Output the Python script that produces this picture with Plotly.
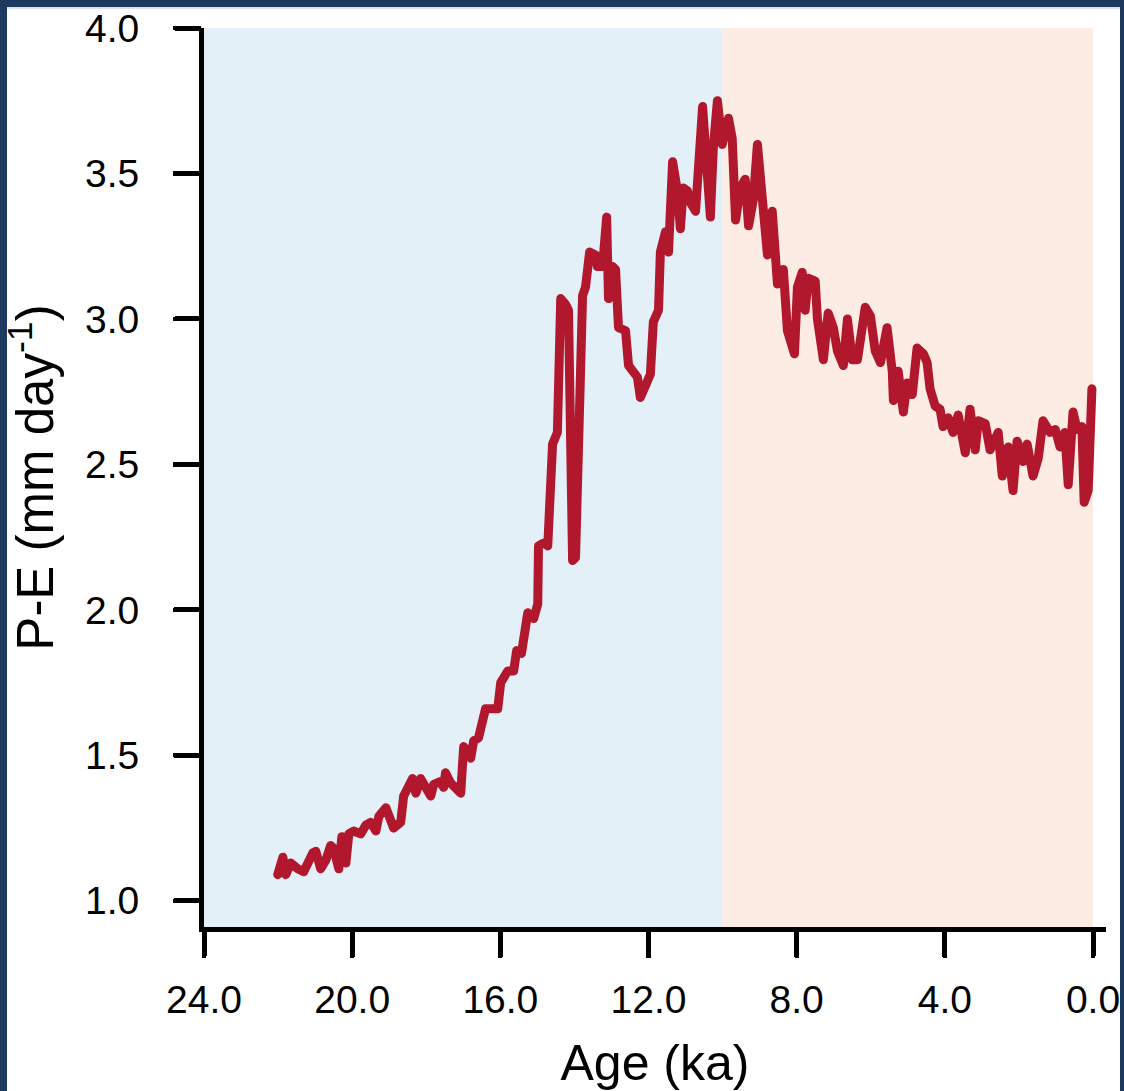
import plotly.graph_objects as go

# Age (ka) and P-E (mm/day)
age_ka = [22.01, 21.87, 21.79, 21.66, 21.47, 21.31, 21.06, 20.98, 20.85, 20.71,
          20.58, 20.50, 20.36, 20.28, 20.17, 20.09, 19.96, 19.77, 19.63, 19.50,
          19.36, 19.28, 19.09, 18.88, 18.69, 18.61, 18.37, 18.28, 18.15, 18.02,
          17.88, 17.80, 17.61, 17.53, 17.48, 17.34, 17.21, 17.07, 16.99, 16.88,
          16.80, 16.72, 16.59, 16.40, 16.07, 15.99, 15.80, 15.64, 15.56, 15.43,
          15.26, 15.10, 14.99, 14.97, 14.83, 14.72, 14.59, 14.46, 14.37, 14.24,
          14.16, 14.05, 13.97, 13.78, 13.70, 13.59, 13.43, 13.38, 13.24, 13.13,
          13.08, 12.97, 12.89, 12.81, 12.62, 12.54, 12.41, 12.30, 12.22, 12.08,
          11.95, 11.87, 11.73, 11.68, 11.54, 11.46, 11.35, 11.22, 11.14, 11.06,
          10.95, 10.87, 10.73, 10.54, 10.41, 10.33, 10.25, 10.14, 10.01, 9.92,
          9.84, 9.74, 9.65, 9.52, 9.39, 9.30, 9.17, 9.06, 8.90, 8.79,
          8.66, 8.52, 8.36, 8.25, 8.06, 7.98, 7.85, 7.77, 7.69, 7.50,
          7.44, 7.28, 7.15, 7.01, 6.90, 6.74, 6.63, 6.50, 6.36, 6.28,
          6.15, 6.01, 5.88, 5.74, 5.56, 5.42, 5.39, 5.26, 5.12, 5.02,
          4.88, 4.75, 4.58, 4.48, 4.40, 4.26, 4.13, 4.05, 3.91, 3.78,
          3.64, 3.45, 3.32, 3.18, 3.10, 2.91, 2.78, 2.56, 2.45, 2.37,
          2.29, 2.16, 2.05, 1.89, 1.78, 1.62, 1.48, 1.35, 1.16, 1.02,
          0.89, 0.76, 0.67, 0.54, 0.43, 0.30, 0.24, 0.13, 0.03]

p_minus_e = [1.09, 1.15, 1.09, 1.13, 1.11, 1.10, 1.165, 1.17, 1.11, 1.14,
             1.19, 1.18, 1.11, 1.22, 1.13, 1.23, 1.24, 1.23, 1.26, 1.27,
             1.24, 1.29, 1.32, 1.25, 1.27, 1.36, 1.42, 1.37, 1.42, 1.39,
             1.36, 1.40, 1.41, 1.39, 1.44, 1.405, 1.39, 1.37, 1.53, 1.51,
             1.49, 1.55, 1.56, 1.66, 1.66, 1.75, 1.79, 1.79, 1.86, 1.85,
             1.99, 1.97, 2.02, 2.22, 2.23, 2.22, 2.57, 2.61, 3.07, 3.05,
             3.03, 2.17, 2.18, 3.08, 3.11, 3.23, 3.22, 3.18, 3.18, 3.35,
             3.07, 3.18, 3.17, 2.97, 2.96, 2.84, 2.81, 2.80, 2.73, 2.78,
             2.81, 2.99, 3.03, 3.23, 3.30, 3.23, 3.54, 3.44, 3.31, 3.45,
             3.44, 3.40, 3.37, 3.73, 3.48, 3.35, 3.59, 3.75, 3.60, 3.66,
             3.69, 3.62, 3.34, 3.45, 3.48, 3.32, 3.41, 3.60, 3.32, 3.22,
             3.37, 3.12, 3.17, 2.96, 2.88, 3.11, 3.16, 3.03, 3.14, 3.13,
             3.00, 2.86, 3.02, 2.97, 2.89, 2.84, 3.00, 2.86, 2.86, 2.92,
             3.04, 3.01, 2.89, 2.85, 2.97, 2.82, 2.72, 2.82, 2.68, 2.78,
             2.74, 2.90, 2.88, 2.85, 2.76, 2.70, 2.69, 2.63, 2.66, 2.61,
             2.67, 2.54, 2.69, 2.55, 2.65, 2.64, 2.55, 2.61, 2.46, 2.51,
             2.56, 2.41, 2.58, 2.51, 2.57, 2.46, 2.52, 2.65, 2.61, 2.62,
             2.56, 2.61, 2.43, 2.68, 2.62, 2.63, 2.37, 2.41, 2.76]

x_ticks = [24, 20, 16, 12, 8, 4, 0]
x_tick_text = ["24.0", "20.0", "16.0", "12.0", "8.0", "4.0", "0.0"]
y_ticks = [1.0, 1.5, 2.0, 2.5, 3.0, 3.5, 4.0]
y_tick_text = ["1.0", "1.5", "2.0", "2.5", "3.0", "3.5", "4.0"]

glacial_span = [24, 10]
holocene_span = [10, 0]

NAVY = "rgb(29,58,94)"
LINE = "rgb(178,24,45)"
BLUE_BG = "rgb(228,240,247)"
ORANGE_BG = "rgb(253,236,227)"
FONT = "Liberation Sans, Arial, Helvetica, sans-serif"

W, H = 1124, 1091
L, R, T, B = 204, 18, 28, 164
pw = W - L - R
ph = H - T - B


def px_x(px):
    return (px - L) / pw


def px_y(py):
    return (H - B - py) / ph


fig = go.Figure()
fig.add_trace(go.Scatter(
    x=age_ka, y=p_minus_e, mode="lines",
    line=dict(color=LINE, width=9, shape="linear"),
    hoverinfo="skip", showlegend=False,
))

shapes = [
    dict(type="rect", xref="paper", yref="paper", layer="below",
         x0=px_x(7), x1=px_x(1120), y0=px_y(1100), y1=px_y(7),
         fillcolor="white", line=dict(width=0)),
    dict(type="rect", xref="paper", yref="paper", layer="below",
         x0=px_x(7), x1=px_x(1120), y0=px_y(9), y1=px_y(7),
         fillcolor="rgb(225,225,228)", line=dict(width=0)),
    dict(type="rect", xref="x", yref="paper", layer="below",
         x0=glacial_span[0], x1=glacial_span[1], y0=0, y1=1,
         fillcolor=BLUE_BG, line=dict(width=0)),
    dict(type="rect", xref="x", yref="paper", layer="below",
         x0=holocene_span[0], x1=holocene_span[1], y0=0, y1=1,
         fillcolor=ORANGE_BG, line=dict(width=0)),
]

fig.update_layout(
    width=W, height=H,
    margin=dict(l=L, r=R, t=T, b=B, autoexpand=False),
    paper_bgcolor=NAVY,
    plot_bgcolor="rgba(0,0,0,0)",
    shapes=shapes,
    font=dict(family=FONT, color="black"),
    showlegend=False,
)

fig.update_xaxes(
    range=[24, -0.35], autorange=False,
    tickmode="array", tickvals=x_ticks, ticktext=x_tick_text,
    ticks="outside", ticklen=24, tickwidth=5, tickcolor="black",
    showline=True, linewidth=5, linecolor="black",
    showgrid=False, zeroline=False,
    tickfont=dict(size=39, family=FONT, color="black"),
    ticklabelstandoff=10,
    title=dict(text="Age (ka)", font=dict(size=50, family=FONT, color="black"), standoff=31),
)
fig.update_yaxes(
    range=[0.91, 4.0], autorange=False,
    tickmode="array", tickvals=y_ticks, ticktext=y_tick_text,
    ticks="outside", ticklen=24, tickwidth=5, tickcolor="black",
    showline=True, linewidth=5, linecolor="black",
    showgrid=False, zeroline=False,
    tickfont=dict(size=39, family=FONT, color="black"),
    ticklabelstandoff=28,
    title=dict(text="P-E (mm day<sup>-1</sup>)", font=dict(size=51, family=FONT, color="black"), standoff=24),
)

post_js = (
    "document.body.style.margin='0';"
    "document.body.style.background='rgb(29,58,94)';"
    "document.querySelectorAll('.scatterlayer path.js-line').forEach(function(p){"
    "p.style.strokeLinejoin='round';p.style.strokeLinecap='round';});"
    "document.querySelectorAll('path.xtick, path.ytick, path.xline, path.yline').forEach(function(p){"
    "p.style.strokeLinecap='round';});"
)

fig.write_html(
    "out.html",
    config={"displayModeBar": False},
    post_script=post_js,
)
